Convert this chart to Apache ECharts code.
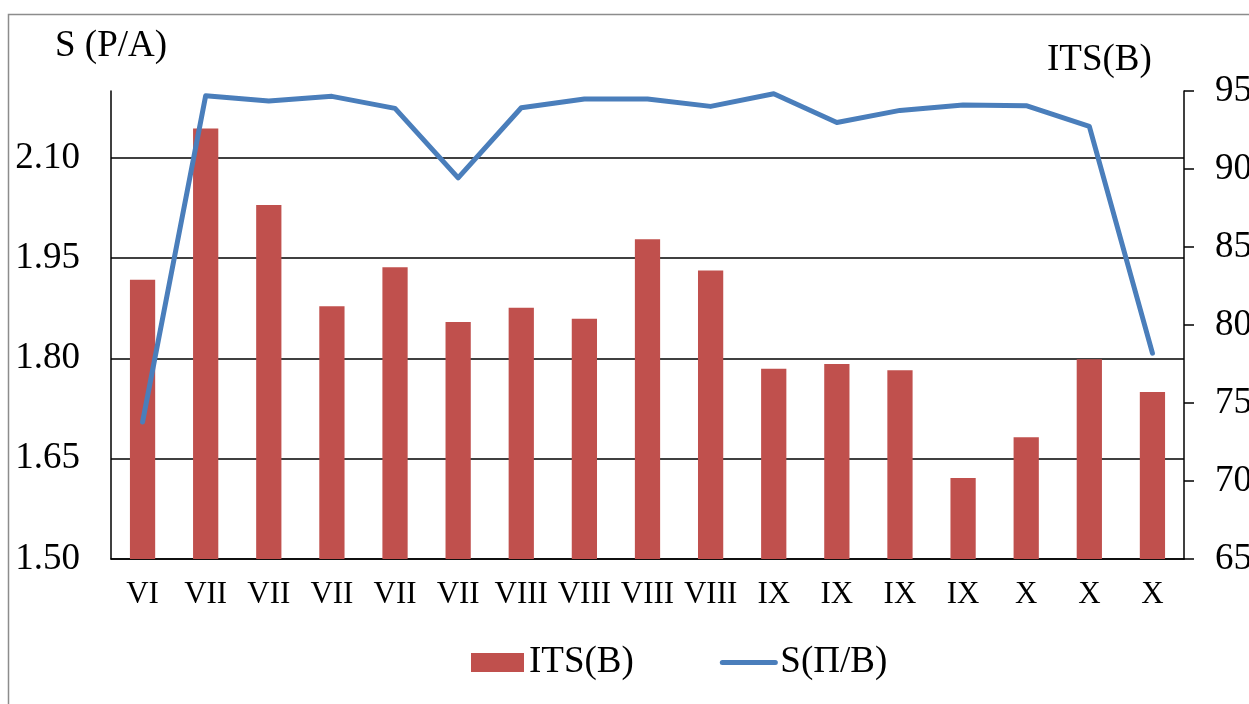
<!DOCTYPE html>
<html>
<head>
<meta charset="utf-8">
<title>ITS / S</title>
<script src="https://cdn.jsdelivr.net/npm/echarts@6/dist/echarts.min.js"></script>
<style>
  html, body { margin: 0; padding: 0; background: #ffffff; }
  #chart { width: 1249px; height: 704px; }
</style>
</head>
<body>
<div id="chart"></div>
<script>
// Month labels along the x axis
const categories = ['VI', 'VII', 'VII', 'VII', 'VII', 'VII', 'VIII', 'VIII', 'VIII', 'VIII', 'IX', 'IX', 'IX', 'IX', 'X', 'X', 'X'];

// ITS(B) — bars, right axis
const itsValues = [82.9, 92.6, 87.7, 81.2, 83.7, 80.2, 81.1, 80.4, 85.5, 83.5, 77.2, 77.5, 77.1, 70.2, 72.8, 77.8, 75.7];

// S(Π/B) — line, left axis
const sValues = [1.705, 2.193, 2.185, 2.192, 2.174, 2.070, 2.175, 2.188, 2.188, 2.177, 2.196, 2.153, 2.171, 2.179, 2.178, 2.147, 1.808];

// Axis ranges
const leftAxisRange = { min: 1.5, max: 2.2, interval: 0.15 };
const rightAxisRange = { min: 65, max: 95, interval: 5 };

const FONT = "'Liberation Serif', 'Times New Roman', serif";
const BAR_COLOR = '#C0504D';
const LINE_COLOR = '#4A7EBB';

const chart = echarts.init(document.getElementById('chart'), null, { renderer: 'canvas' });

chart.setOption({
  animation: false,
  backgroundColor: '#ffffff',
  textStyle: { fontFamily: FONT, color: '#000' },
  grid: {
    left: 111,
    right: 65,
    top: 91,
    bottom: 145,
    containLabel: false,
    outerBoundsMode: 'none'
  },
  graphic: [
    {
      type: 'rect',
      silent: true,
      shape: { x: 8.5, y: 14.5, width: 1400, height: 900 },
      style: { fill: 'none', stroke: '#8c8c8c', lineWidth: 1.5 }
    },
    {
      type: 'text',
      silent: true,
      left: 55,
      top: 28,
      style: { text: 'S (P/A)', font: '37px ' + FONT, fill: '#000' }
    },
    {
      type: 'text',
      silent: true,
      left: 1047,
      top: 42,
      style: { text: 'ITS(B)', font: '37px ' + FONT, fill: '#000' }
    }
  ],
  legend: {
    left: 466,
    top: 639,
    itemWidth: 53,
    itemHeight: 19,
    itemGap: 86,
    textStyle: { fontFamily: FONT, fontSize: 37, color: '#000' },
    data: [
      { name: 'ITS(B)', icon: 'rect' },
      {
        name: 'S(Π/B)',
        // plain thick stroke, no marker in the middle
        itemStyle: { opacity: 0, color: 'rgba(0,0,0,0)', borderWidth: 0 },
        lineStyle: { width: 5, color: LINE_COLOR, cap: 'round' }
      }
    ]
  },
  xAxis: {
    type: 'category',
    data: categories,
    boundaryGap: true,
    axisLine: { show: true, lineStyle: { color: '#000', width: 1.5 } },
    axisTick: { show: false },
    axisLabel: {
      interval: 0,
      margin: 20,
      fontFamily: FONT,
      fontSize: 31,
      color: '#000'
    },
    splitLine: { show: false }
  },
  yAxis: [
    {
      type: 'value',
      position: 'left',
      min: leftAxisRange.min,
      max: leftAxisRange.max,
      interval: leftAxisRange.interval,
      axisLine: { show: true, lineStyle: { color: '#000', width: 1.5 } },
      axisTick: { show: false },
      axisLabel: {
        margin: 31,
        fontFamily: FONT,
        fontSize: 37,
        color: '#000',
        showMaxLabel: false,
        formatter: function (v) {
          return Math.abs(v - leftAxisRange.max) < 1e-6 ? '' : v.toFixed(2);
        }
      },
      splitLine: {
        show: true,
        showMaxLine: false,
        lineStyle: { color: '#000', width: 1.5 }
      }
    },
    {
      type: 'value',
      position: 'right',
      min: rightAxisRange.min,
      max: rightAxisRange.max,
      interval: rightAxisRange.interval,
      axisLine: { show: true, lineStyle: { color: '#000', width: 1.5 } },
      axisTick: { show: true, inside: false, length: 10, lineStyle: { color: '#000', width: 1.5 } },
      axisLabel: {
        margin: 31,
        fontFamily: FONT,
        fontSize: 37,
        color: '#000'
      },
      splitLine: { show: false }
    }
  ],
  series: [
    {
      name: 'ITS(B)',
      type: 'bar',
      yAxisIndex: 1,
      data: itsValues,
      barWidth: '40%',
      itemStyle: { color: BAR_COLOR }
    },
    {
      name: 'S(Π/B)',
      type: 'line',
      yAxisIndex: 0,
      data: sValues,
      showSymbol: false,
      symbol: 'none',
      lineStyle: { color: LINE_COLOR, width: 5, cap: 'round', join: 'round' },
      itemStyle: { color: LINE_COLOR }
    }
  ]
});
</script>
</body>
</html>
